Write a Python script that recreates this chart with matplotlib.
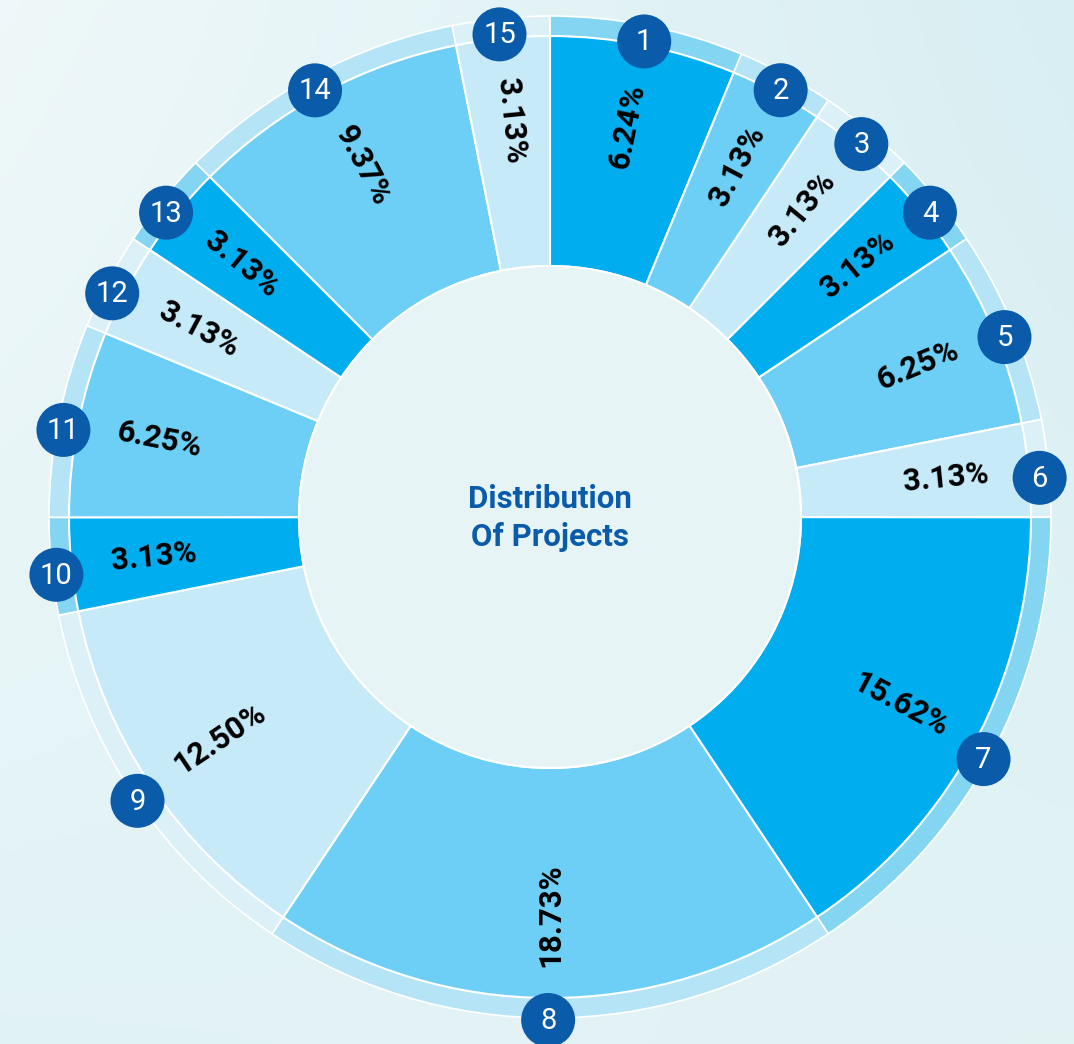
import numpy as np
import matplotlib
matplotlib.use("Agg")
import matplotlib.pyplot as plt
from matplotlib.patches import Circle

# ---- data ----
labels = ["1", "2", "3", "4", "5", "6", "7", "8", "9", "10", "11", "12", "13", "14", "15"]
shares = [6.24, 3.13, 3.13, 3.13, 6.25, 3.13, 15.62, 18.73, 12.50, 3.13, 6.25, 3.13, 3.13, 9.37, 3.13]
value_text = ["6.24%", "3.13%", "3.13%", "3.13%", "6.25%", "3.13%", "15.62%", "18.73%",
              "12.50%", "3.13%", "6.25%", "3.13%", "3.13%", "9.37%", "3.13%"]
center_title = "Distribution\nOf Projects"

# ---- style ----
W, H = 1074, 1044
CX, CY = 550, H - 517
R_OUT, R_IN, R_RING = 481, 251, 501
main_cols = ["#00AEEF", "#6DCFF6", "#C7EAF9"]
ring_cols = ["#84D5F2", "#B4E4F6", "#DCF0F8"]
badge_col = "#0A5CAB"
title_col = "#0A5CAB"

plt.rcParams["font.family"] = ["Roboto", "DejaVu Sans"]

fig = plt.figure(figsize=(W / 100, H / 100), dpi=100)
ax = fig.add_axes([0, 0, 1, 1])

# background gradient (bilinear between corner tints)
gx = np.linspace(0, 1, 200)
gy = np.linspace(0, 1, 200)
GX, GY = np.meshgrid(gx, gy)
TL = np.array([0.935, 0.972, 0.977])
TR = np.array([0.85, 0.935, 0.952])
BL = np.array([0.885, 0.952, 0.962])
BR = np.array([0.89, 0.953, 0.96])
u = GX[..., None]
v = GY[..., None]  # 0 bottom, 1 top
img = (BL * (1 - u) + BR * u) * (1 - v) + (TL * (1 - u) + TR * u) * v
ax.imshow(img, extent=[0, W, 0, H], origin="lower", zorder=0, aspect="auto")

n = len(shares)
mc = [main_cols[i % 3] for i in range(n)]
rc = [ring_cols[i % 3] for i in range(n)]

# outer ring
ax.pie(shares, colors=rc, startangle=90, counterclock=False, center=(CX, CY),
       radius=R_RING, wedgeprops=dict(width=R_RING - R_OUT + 1, edgecolor="white", linewidth=1.2),
       frame=True)
# main donut
ax.pie(shares, colors=mc, startangle=90, counterclock=False, center=(CX, CY),
       radius=R_OUT, wedgeprops=dict(width=R_OUT - R_IN, edgecolor="white", linewidth=1.5),
       frame=True)

# inner disc
ax.add_patch(Circle((CX, CY), R_IN, facecolor="#E7F4F6", edgecolor="white", linewidth=1.5, zorder=3))

ax.text(CX, CY - 1, center_title, ha="center", va="center", fontsize=22.5, fontweight="bold",
        color=title_col, linespacing=1.36, zorder=5)

# badge ring is slightly offset from the donut centre
BCX, BCY, BR_ = CX - 2, CY - 9, 494

total = sum(shares)
cum = 0.0
for i in range(n):
    mid = (cum + shares[i] / 2) / total * 360.0  # clockwise from top
    cum += shares[i]
    a = np.deg2rad(90 - mid)
    # value label
    lx, ly = CX + 398 * np.cos(a), CY + 398 * np.sin(a)
    rot = 90 - mid
    if mid >= 179.5:
        rot += 180
    ax.text(lx, ly, value_text[i], rotation=rot, rotation_mode="anchor", ha="center", va="center",
            fontsize=22.5, fontweight="bold", color="black", zorder=5)
    # badge
    bx, by = BCX + BR_ * np.cos(a), BCY + BR_ * np.sin(a)
    ax.add_patch(Circle((bx, by), 27, facecolor=badge_col, edgecolor="none", zorder=6))
    ax.text(bx, by - 1, labels[i], ha="center", va="center", fontsize=21, color="white", zorder=7)

ax.set_xlim(0, W)
ax.set_ylim(0, H)
ax.set_aspect("auto")
ax.axis("off")
fig.savefig("out.png", dpi=100)
